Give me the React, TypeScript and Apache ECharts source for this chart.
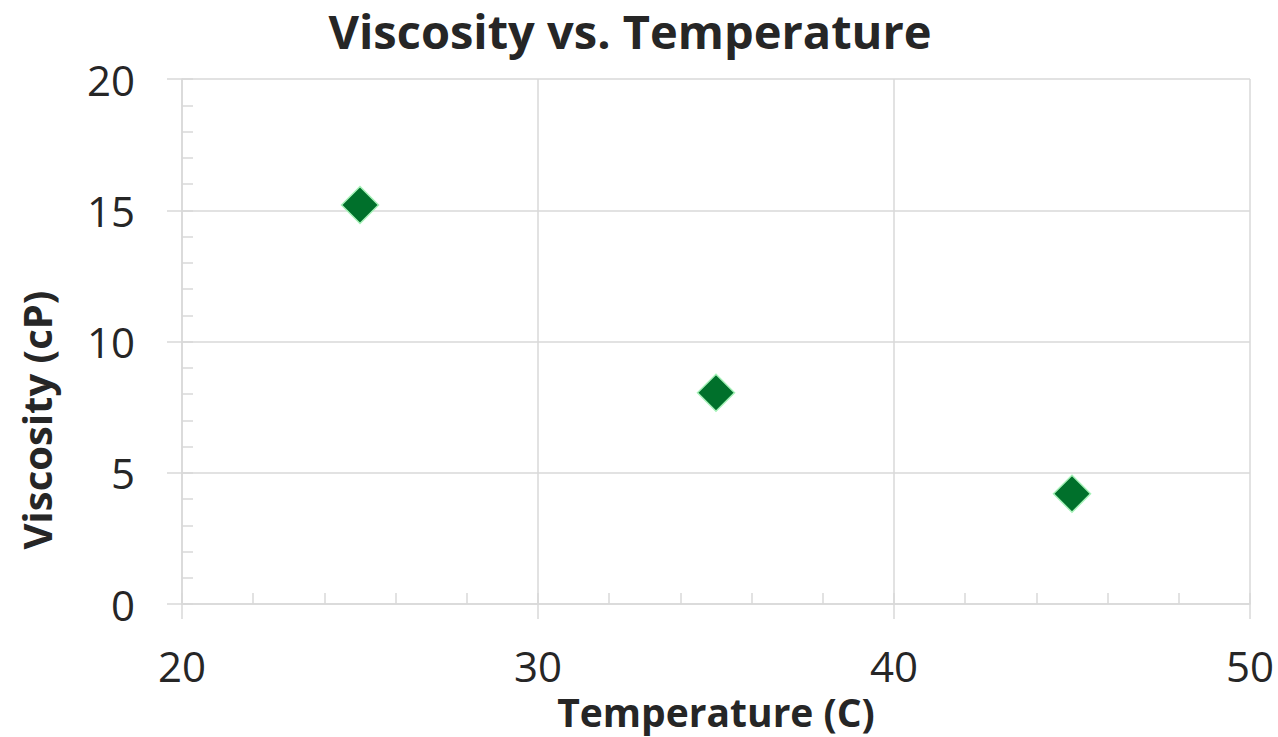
import React, { useEffect, useRef } from "react";
import * as echarts from "echarts";

const temperature = [25, 35, 45];
const viscosity = [15.2, 8.05, 4.2];
const xTicks = [20, 30, 40, 50];
const yTicks = [0, 5, 10, 15, 20];

const titleText = "Viscosity vs. Temperature";
const xTitle = "Temperature (C)";
const yTitle = "Viscosity (cP)";

const FONT = "'Open Sans', 'Noto Sans', sans-serif";
const TXT = "#262626";
const GRID = "#d9d9d9";

export default function App() {
  const ref = useRef<HTMLDivElement>(null);
  useEffect(() => {
    if (!ref.current) return;
    const chart = echarts.init(ref.current, undefined, { renderer: "svg" });
    const xMin = xTicks[0], xMax = xTicks[xTicks.length - 1];
    const yMin = yTicks[0], yMax = yTicks[yTicks.length - 1];
    const baseX = {
      type: "value", min: xMin, max: xMax, interval: 10,
    };
    const baseY = {
      type: "value", min: yMin, max: yMax, interval: 5,
    };
    chart.setOption({
      animation: false,
      backgroundColor: "#ffffff",
      grid: { left: 182, right: 28, top: 79, bottom: 133, containLabel: false },
      xAxis: [
        {
          ...baseX,
          position: "bottom",
          axisLine: { show: true, lineStyle: { color: GRID, width: 1.5 } },
          axisTick: { show: true, inside: false, length: 15, lineStyle: { color: GRID, width: 1.5 } },
          axisLabel: { show: true, margin: 40, color: TXT, fontSize: 42, fontFamily: FONT },
          splitLine: { show: true, lineStyle: { color: GRID, width: 1.5 } },
        },
        {
          ...baseX,
          position: "bottom",
          offset: 0,
          axisLine: { show: false },
          axisTick: { show: true, inside: true, length: 11, lineStyle: { color: GRID, width: 1.5 } },
          minorTick: { show: true, splitNumber: 5, length: 11, lineStyle: { color: GRID, width: 1.5 } },
          axisLabel: { show: false },
          splitLine: { show: false },
        },
      ],
      yAxis: [
        {
          ...baseY,
          position: "left",
          axisLine: { show: true, lineStyle: { color: GRID, width: 1.5 } },
          axisTick: { show: true, inside: false, length: 15, lineStyle: { color: GRID, width: 1.5 } },
          axisLabel: { show: true, margin: 47, color: TXT, fontSize: 42, fontFamily: FONT },
          splitLine: { show: true, lineStyle: { color: GRID, width: 1.5 } },
        },
        {
          ...baseY,
          position: "left",
          offset: 0,
          axisLine: { show: false },
          axisTick: { show: true, inside: true, length: 11, lineStyle: { color: GRID, width: 1.5 } },
          minorTick: { show: true, splitNumber: 5, length: 11, lineStyle: { color: GRID, width: 1.5 } },
          axisLabel: { show: false },
          splitLine: { show: false },
        },
      ],
      graphic: [
        {
          type: "text", x: 630, y: 31,
          style: { text: titleText, font: `bold 47px ${FONT}`, fill: TXT, textAlign: "center", textVerticalAlign: "middle" },
        },
        {
          type: "text", x: 716, y: 711,
          style: { text: xTitle, font: `bold 39px ${FONT}`, fill: TXT, textAlign: "center", textVerticalAlign: "middle" },
        },
        {
          type: "text", x: 36, y: 420, rotation: Math.PI / 2,
          style: { text: yTitle, font: `bold 40px ${FONT}`, fill: TXT, textAlign: "center", textVerticalAlign: "middle" },
        },
      ],
      series: [
        {
          type: "scatter",
          xAxisIndex: 0,
          yAxisIndex: 0,
          symbol: "diamond",
          symbolSize: 37,
          itemStyle: { color: "#00702b", borderColor: "#a6f2b8", borderWidth: 1.5, opacity: 1 },
          data: temperature.map((t, i) => [t, viscosity[i]]),
        },
      ],
    });
    return () => chart.dispose();
  }, []);
  return (
    <div
      ref={ref}
      style={{ position: "fixed", left: 0, top: 0, width: 1278, height: 737 }}
    />
  );
}
